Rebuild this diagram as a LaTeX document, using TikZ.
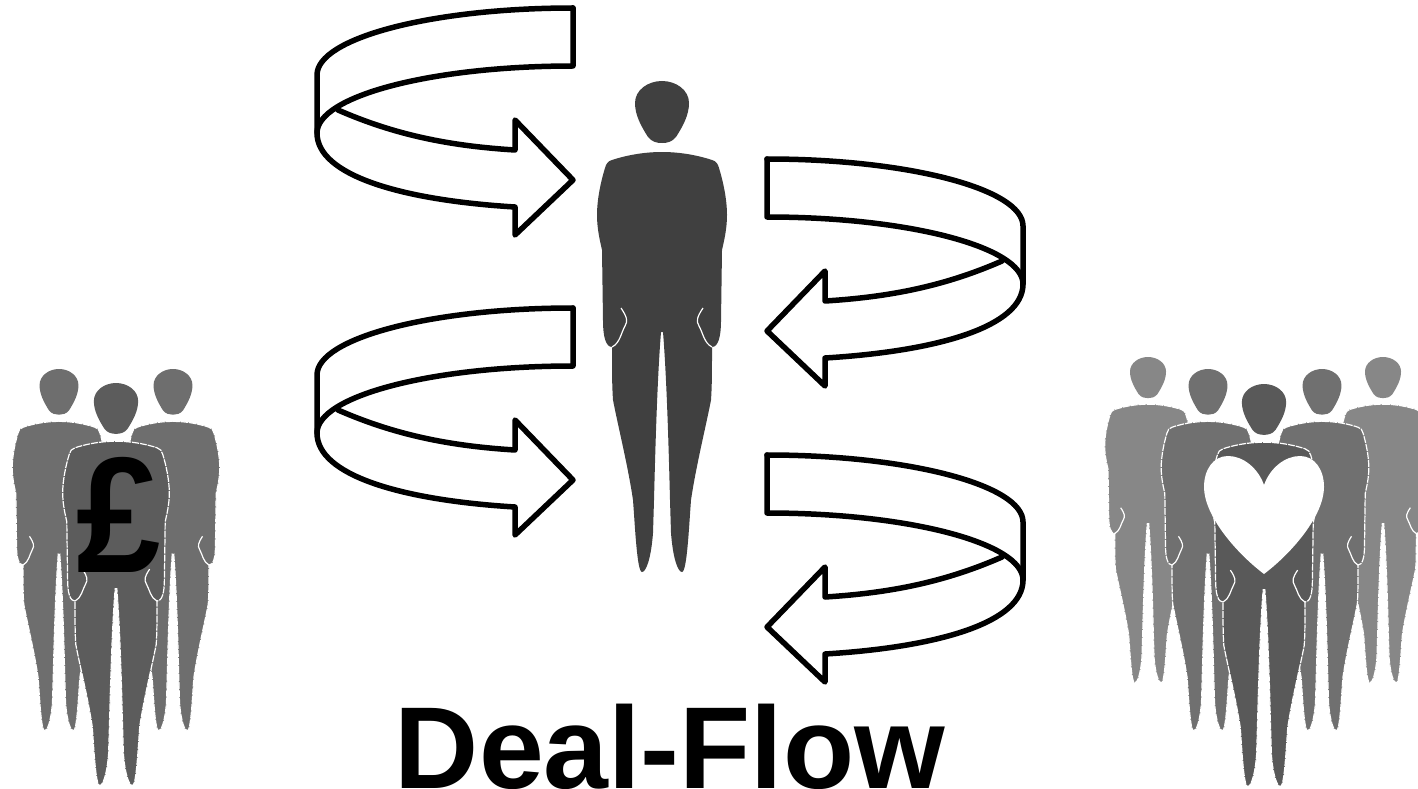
\documentclass[tikz,border=0pt]{standalone}
\usepackage{fontspec}
\setmainfont{Liberation Sans}
\tikzset{
  ribbon/.style={draw=black,line width=5.5pt,line join=round,line cap=round},
  handline/.style={draw=#1,line width=1.2pt},
  titletext/.style={inner sep=0pt,anchor=base,font=\bfseries\fontsize{116.5}{120}\selectfont},
  poundtext/.style={inner sep=0pt,anchor=base,transform shape,xscale=0.92,font=\bfseries\fontsize{165}{170}\selectfont}
}
% #1 centre x, #2 head top y, #3 x scale, #4 y scale, #5 grey level, #6 outline colour
\newcommand{\drawperson}[6]{%
  \definecolor{pc}{gray}{#5}%
  \begin{scope}[shift={(#1,#2)},xscale=#3,yscale=#4]
    \fill[pc] (0,0) .. controls (14,0) and (27,9) .. (27,22)
      .. controls (27,34) and (21,45) .. (14,56)
      .. controls (10,61) and (5,62) .. (0,62)
      .. controls (-5,62) and (-10,61) .. (-14,56)
      .. controls (-21,45) and (-27,34) .. (-27,22)
      .. controls (-27,9) and (-14,0) .. (0,0) -- cycle;
    \path[fill=pc,draw=#6,line width=1.2pt,dash pattern=on 7pt off 1pt]
      (0,71) .. controls (20,71) and (38,75) .. (50,79)
      .. controls (54,80) and (56,83) .. (57,87)
      .. controls (61,100) and (65,118) .. (65,134)
      .. controls (65,148) and (62,160) .. (60,169)
      -- (59,240) .. controls (59,256) and (56,266) .. (50,266)
      .. controls (50,290) and (50,305) .. (49,319)
      .. controls (44,345) and (34,385) .. (29,419)
      .. controls (27,445) and (25,491) .. (20,491)
      .. controls (16,491) and (11,478) .. (9,452)
      -- (8,419)
      .. controls (7,380) and (5,300) .. (1,251) -- (-1,251)
      .. controls (-5,300) and (-7,380) .. (-8,419)
      -- (-9,452)
      .. controls (-11,478) and (-16,491) .. (-20,491)
      .. controls (-25,491) and (-27,445) .. (-29,419)
      .. controls (-34,385) and (-44,345) .. (-49,319)
      .. controls (-50,305) and (-50,290) .. (-50,266)
      .. controls (-56,266) and (-59,256) .. (-59,240)
      -- (-60,169)
      .. controls (-62,160) and (-65,148) .. (-65,134)
      .. controls (-65,118) and (-61,100) .. (-57,87)
      .. controls (-56,83) and (-54,80) .. (-50,79)
      .. controls (-38,75) and (-20,71) .. (0,71) -- cycle;
    \draw[handline=white] (41,227) .. controls (35,236) and (34,240) .. (37,245)
      .. controls (41,252) and (42,262) .. (50,266);
    \draw[handline=white] (-41,227) .. controls (-35,236) and (-34,240) .. (-37,245)
      .. controls (-41,252) and (-42,262) .. (-50,266);
  \end{scope}}
% one ribbon arrow in the coordinates of the top left one
\newcommand{\ribbonarrow}{%
  \draw[ribbon] (573,8) .. controls (432,8) and (317,38) .. (317,75)
    -- (317,133) .. controls (317,175) and (400,200) .. (515,207)
    -- (515,235) -- (573,180) -- (515,120) -- (515,150)
    .. controls (450,146) and (395,135) .. (338,110);
  \draw[ribbon] (573,8) -- (573,66) .. controls (432,66) and (317,96) .. (317,133);}
\begin{document}
\begin{tikzpicture}[x=1pt,y=-1pt]
  \useasboundingbox (0,0) rectangle (1418,789);
  \clip (0,0) rectangle (1418,789);
  \fill[white] (0,0) rectangle (1418,789);
  % ribbon arrows
  \begin{scope}\ribbonarrow\end{scope}
  \begin{scope}[yshift=-300pt]\ribbonarrow\end{scope}
  \begin{scope}[shift={(1340,151)},xscale=-1]\ribbonarrow\end{scope}
  \begin{scope}[shift={(1340,447)},xscale=-1]\ribbonarrow\end{scope}
  % central person
  \drawperson{662}{81}{1}{1}{0.25}{none}
  % left group
  \drawperson{59}{369}{0.72}{0.737}{0.43}{white}
  \drawperson{173}{369}{0.72}{0.737}{0.43}{white}
  \drawperson{116}{383}{0.82}{0.82}{0.36}{white}
  \node[poundtext] (pound) at (119,572) {£};
  % right group
  \drawperson{1148}{357}{0.667}{0.664}{0.53}{white}
  \drawperson{1383}{357}{0.667}{0.664}{0.53}{white}
  \drawperson{1208}{369}{0.72}{0.737}{0.44}{white}
  \drawperson{1322}{369}{0.72}{0.737}{0.44}{white}
  \drawperson{1264}{384}{0.82}{0.82}{0.35}{white}
  \fill[white] (1264,485) .. controls (1258,468) and (1243,456) .. (1228,456)
    .. controls (1213,456) and (1204,470) .. (1204,487)
    .. controls (1204,515) and (1235,552) .. (1264,574)
    .. controls (1293,552) and (1324,515) .. (1324,487)
    .. controls (1324,470) and (1315,456) .. (1300,456)
    .. controls (1285,456) and (1270,468) .. (1264,485) -- cycle;
  % title
  \node[titletext] (title) at (670,788) {Deal-Flow};
\end{tikzpicture}
\end{document}
